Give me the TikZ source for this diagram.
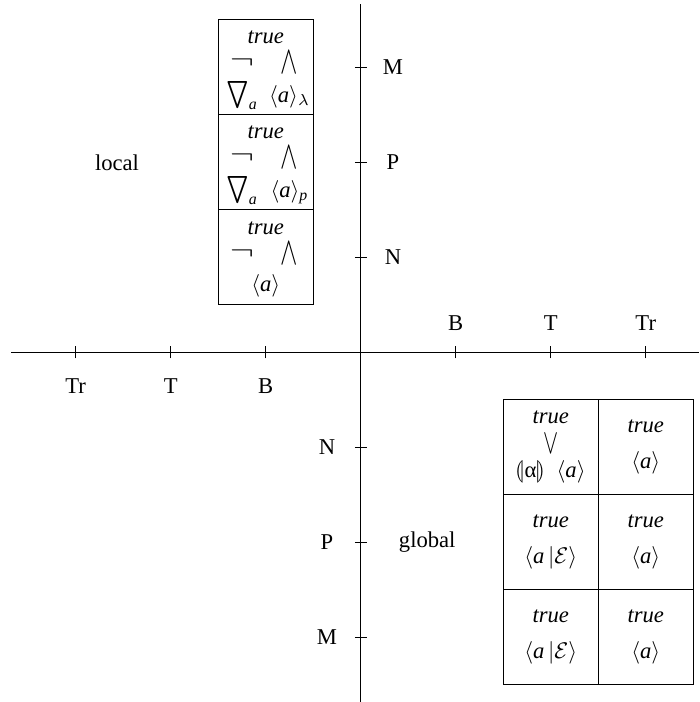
\documentclass[tikz,border=0pt]{standalone}
\usepackage{amsmath,amssymb}
\usepackage{stmaryrd}
\usepackage{array}
\usepackage{fontspec}
\setmainfont{Liberation Serif}
\usepackage{tikz}
\usetikzlibrary{positioning}
\setlength{\tabcolsep}{2pt}
\newcommand{\tru}{\textit{true}}
\newcommand{\ang}[1]{\langle\textit{#1}\rangle}
\newcommand{\angE}{\langle\textit{a}\,|\mathcal{E}\rangle}
\newcommand{\bigneg}{\raisebox{2pt}{\scalebox{1.6}[1.2]{$\neg$}}}
\newcommand{\tallwedge}{\scalebox{1.15}[1.75]{$\wedge$}}
\newcommand{\tallvee}{\scalebox{1}[1.55]{$\vee$}}
\newcommand{\bignabla}{\scalebox{1.2}{$\bigtriangledown$}}

\tikzset{cell/.style={draw, minimum width=42pt, minimum height=42pt, inner sep=0pt, align=center},
	tick/.style={line width=0.35pt}}

\begin{document}
\begin{tikzpicture}[x=42pt,y=42pt]
	\useasboundingbox (-3.797,-3.681) rectangle (3.561,3.708);
	\draw (-3.68,0) -- (3.561,0);
	\draw (0,-3.681) -- (0,3.67);
	\draw[tick] (-3,-0.063) -- (-3,0.063);
	\draw[tick] (-2,-0.063) -- (-2,0.063);
	\draw[tick] (-1,-0.063) -- (-1,0.063);
	\draw[tick] (1,-0.063) -- (1,0.063);
	\draw[tick] (2,-0.063) -- (2,0.063);
	\draw[tick] (3,-0.063) -- (3,0.063);
	\draw[tick] (-0.063,3) -- (0.063,3);
	\draw[tick] (-0.063,2) -- (0.063,2);
	\draw[tick] (-0.063,1) -- (0.063,1);
	\draw[tick] (-0.063,-1) -- (0.063,-1);
	\draw[tick] (-0.063,-2) -- (0.063,-2);
	\draw[tick] (-0.063,-3) -- (0.063,-3);
	\node (trL) at (-3,-0.36) {Tr};
	\node (tL) at (-2,-0.36) {T};
	\node (bL) at (-1,-0.36) {B};
	\node (bR) at (1,0.31) {B};
	\node (tR) at (2,0.31) {T};
	\node (trR) at (3,0.31) {Tr};
	\node (mU) at (0.34,3) {M};
	\node (pU) at (0.34,2) {P};
	\node (nU) at (0.34,1) {N};
	\node (nD) at (-0.355,-1) {N};
	\node (pD) at (-0.355,-2) {P};
	\node (mD) at (-0.355,-3) {M};
	\node (local) at (-2.565,2) {local};
	\node (global) at (0.70,-2) {global};
	% local column
	\node[cell] (lm) at (-1,3) {\begin{tabular}{@{}wc{17pt}wc{17pt}@{}}\multicolumn{2}{c}{\tru}\\ \bigneg & \tallwedge\\ $\bignabla_{\textit{a}}$ & $\ang{a}_\lambda$\end{tabular}};
	\node[cell] (lp) at (-1,2) {\begin{tabular}{@{}wc{17pt}wc{17pt}@{}}\multicolumn{2}{c}{\tru}\\ \bigneg & \tallwedge\\ $\bignabla_{\textit{a}}$ & $\ang{a}_{\textit{p}}$\end{tabular}};
	\node[cell] (ln) at (-1,1) {\begin{tabular}{@{}wc{17pt}wc{17pt}@{}}\multicolumn{2}{c}{\tru}\\ \bigneg & \tallwedge\\ \multicolumn{2}{c}{$\ang{a}$}\end{tabular}};
	% global table
	\node[cell] (gn1) at (2,-1) {\tru\\[1pt] \tallvee\\[-1pt] $\llparenthesis$α$\rrparenthesis$\enspace$\ang{a}$};
	\node[cell] (gn2) at (3,-1) {\tru\\[4pt] $\ang{a}$};
	\node[cell] (gp1) at (2,-2) {\tru\\[4pt] $\angE$};
	\node[cell] (gp2) at (3,-2) {\tru\\[4pt] $\ang{a}$};
	\node[cell] (gm1) at (2,-3) {\tru\\[4pt] $\angE$};
	\node[cell] (gm2) at (3,-3) {\tru\\[4pt] $\ang{a}$};
\end{tikzpicture}
\end{document}
